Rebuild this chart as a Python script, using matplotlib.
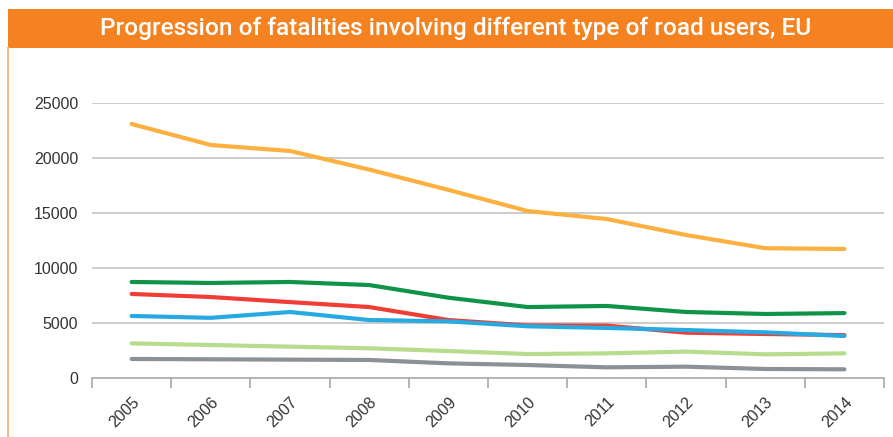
import matplotlib.pyplot as plt
from matplotlib.patches import Rectangle
from matplotlib.lines import Line2D
from matplotlib.transforms import ScaledTranslation

# Data
years = ["2005", "2006", "2007", "2008", "2009", "2010", "2011", "2012", "2013", "2014"]
orange_vals = [23090, 21180, 20640, 18950, 17100, 15180, 14450, 13000, 11800, 11730]
green_vals = [8730, 8640, 8730, 8450, 7300, 6450, 6550, 6000, 5820, 5900]
red_vals = [7640, 7360, 6900, 6450, 5270, 4780, 4760, 4120, 4000, 3900]
blue_vals = [5640, 5470, 6000, 5270, 5150, 4700, 4550, 4360, 4150, 3820]
lightgreen_vals = [3150, 3000, 2850, 2700, 2450, 2180, 2240, 2400, 2150, 2240]
gray_vals = [1730, 1700, 1670, 1640, 1330, 1180, 970, 1030, 820, 790]

series = [
    (orange_vals, "#FBB040"),
    (green_vals, "#0F9447"),
    (red_vals, "#EF3E36"),
    (blue_vals, "#27AAE1"),
    (lightgreen_vals, "#B8DC8E"),
    (gray_vals, "#8C9196"),
]

plt.rcParams['font.family'] = ['Liberation Sans', 'DejaVu Sans']

W, H = 893, 437
fig = plt.figure(figsize=(W / 100, H / 100), dpi=100)
fig.patch.set_facecolor("white")

# Header band and left border
fig.add_artist(Rectangle((8 / W, 1 - 48 / H), 1 - 8 / W, 39 / H,
                         transform=fig.transFigure, color="#F58220", lw=0))
fig.add_artist(Line2D([8 / W, 8 / W], [0, 1 - 48 / H], transform=fig.transFigure,
                      color="#FAB883", lw=1.5))
fig.text(455.5 / W, 1 - 28.5 / H,
         "Progression of fatalities involving different type of road users, EU",
         color="white", fontsize=17.6, fontweight="medium", ha="center", va="center",
         family=['Roboto', 'DejaVu Sans'])

ax = fig.add_axes([92 / W, 1 - 378 / H, (884 - 92) / W, (378 - 103) / H])
x = list(range(len(years)))
for vals, col in series:
    ax.plot(x, vals, color=col, lw=3, solid_capstyle="round", solid_joinstyle="round", zorder=3)

ax.set_xlim(-0.5, len(years) - 0.5)
ax.set_ylim(0, 25000)
ax.set_yticks(range(0, 25001, 5000))
for v in range(5000, 25001, 5000):
    ax.axhline(v, color="#C4C4C4", lw=1.2, zorder=1)

for s in ["top", "right", "left"]:
    ax.spines[s].set_visible(False)
ax.spines["bottom"].set_color("#A8A8A8")
ax.spines["bottom"].set_linewidth(1.2)

ax.set_xticks(x)
ax.set_xticklabels(years, rotation=45, ha="right", rotation_mode="anchor")
shift = ScaledTranslation(7 / 100, -1 / 100, fig.dpi_scale_trans)
for lab in ax.get_xticklabels():
    lab.set_transform(lab.get_transform() + shift)
ax.set_xticks([i - 0.5 for i in range(len(years) + 1)], minor=True)
ax.tick_params(axis="x", which="major", length=0, pad=12, labelsize=11.5, colors="#333333")
ax.tick_params(axis="x", which="minor", length=7, width=1.2, color="#A8A8A8")
ax.tick_params(axis="y", length=0, pad=10, labelsize=11.5, colors="#333333")

fig.savefig("out.png", dpi=100)
